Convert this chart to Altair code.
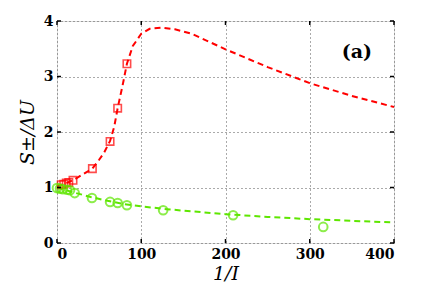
import altair as alt
import pandas as pd

# Red series (S+): markers and dashed fit curve
red_x = [5, 8, 11, 14, 19, 42, 63, 72, 83]
red_y = [1.05, 1.06, 1.08, 1.09, 1.13, 1.34, 1.83, 2.43, 3.23]
red_line_x = [0, 10, 20, 30, 42, 50, 56, 63, 68, 72, 78, 83, 90, 100, 110, 125, 140, 160, 180, 200, 250, 300, 350, 400]
red_line_y = [1.02, 1.07, 1.14, 1.23, 1.34, 1.5, 1.63, 1.84, 2.1, 2.43, 2.85, 3.23, 3.55, 3.77, 3.86, 3.88, 3.85, 3.77, 3.63, 3.49, 3.17, 2.88, 2.65, 2.45]

# Green series (S-): markers and dashed fit curve
green_x = [0, 3.6, 7, 12, 15.4, 21, 41.5, 63, 72, 83, 126, 209, 316]
green_y = [0.99, 0.98, 0.97, 0.96, 0.95, 0.9, 0.81, 0.74, 0.72, 0.68, 0.59, 0.5, 0.29]
green_line_x = [0, 20, 40, 60, 80, 100, 130, 160, 200, 250, 300, 350, 400]
green_line_y = [1.0, 0.91, 0.83, 0.76, 0.7, 0.66, 0.61, 0.57, 0.52, 0.47, 0.43, 0.4, 0.37]

x_ticks = [0, 100, 200, 300, 400]
y_ticks = [0, 1, 2, 3, 4]

RED = "#ff0000"
GREEN = "#5ee600"
W, H = 337, 222
SERIF = "DejaVu Serif"

xs = alt.Scale(domain=[0, 400], nice=False, zero=False)
ys = alt.Scale(domain=[0, 4], nice=False, zero=False)

red_pts = pd.DataFrame({"x": red_x, "y": red_y})
red_ln = pd.DataFrame({"x": red_line_x, "y": red_line_y})
grn_pts = pd.DataFrame({"x": green_x, "y": green_y})
grn_ln = pd.DataFrame({"x": green_line_x, "y": green_line_y})

axis_common = dict(
    labelFont=SERIF, labelFontWeight="bold", labelFontSize=14,
    labelColor="black", titleFont=SERIF, titleFontStyle="italic",
    titleFontWeight="normal", titleFontSize=19, titleColor="black",
    domain=False, ticks=False, grid=True, gridColor="#555555",
    gridDash=[1, 3], gridWidth=1, labelPadding=4, format="d",
)

base_x = alt.X("x:Q", scale=xs, axis=alt.Axis(values=x_ticks, title="1/I", titlePadding=3, **axis_common))
base_y = alt.Y("y:Q", scale=ys, axis=alt.Axis(values=y_ticks, title="S±/ΔU", titlePadding=6, **axis_common))

red_line = alt.Chart(red_ln).mark_line(color=RED, strokeWidth=2, strokeDash=[6, 4]).encode(x=base_x, y=base_y)
green_line = alt.Chart(grn_ln).mark_line(color=GREEN, strokeWidth=2, strokeDash=[6, 4]).encode(x="x:Q", y="y:Q")
red_marks = alt.Chart(red_pts).mark_point(shape="square", color=RED, size=55, strokeWidth=1.6, filled=False).encode(x="x:Q", y="y:Q")
green_marks = alt.Chart(grn_pts).mark_point(shape="circle", color=GREEN, size=75, strokeWidth=2, filled=False).encode(x="x:Q", y="y:Q")

# inward ticks on all four sides
xt = pd.DataFrame({"x": x_ticks})
yt = pd.DataFrame({"y": y_ticks})
tick_b = alt.Chart(xt).mark_rule(color="black", strokeWidth=1.5).encode(x="x:Q", y=alt.value(H), y2=alt.value(H - 4))
tick_t = alt.Chart(xt).mark_rule(color="black", strokeWidth=1.5).encode(x="x:Q", y=alt.value(0), y2=alt.value(4))
tick_l = alt.Chart(yt).mark_rule(color="black", strokeWidth=1.5).encode(y="y:Q", x=alt.value(0), x2=alt.value(4))
tick_r = alt.Chart(yt).mark_rule(color="black", strokeWidth=1.5).encode(y="y:Q", x=alt.value(W), x2=alt.value(W - 4))

label = alt.Chart(pd.DataFrame({"x": [356], "y": [3.44], "t": ["(a)"]})).mark_text(
    font=SERIF, fontWeight="bold", fontSize=19, color="black"
).encode(x="x:Q", y="y:Q", text="t:N")

chart = alt.layer(
    red_line, green_line, red_marks, green_marks, tick_b, tick_t, tick_l, tick_r, label
).properties(
    width=W, height=H,
    autosize=alt.AutoSizeParams(type="none"),
    padding={"left": 49, "top": 13, "right": 34, "bottom": 41},
).configure_view(
    stroke="black", strokeWidth=2.5
).configure(background="white")

chart.save("out.html", embed_options={"renderer": "svg", "actions": False})
